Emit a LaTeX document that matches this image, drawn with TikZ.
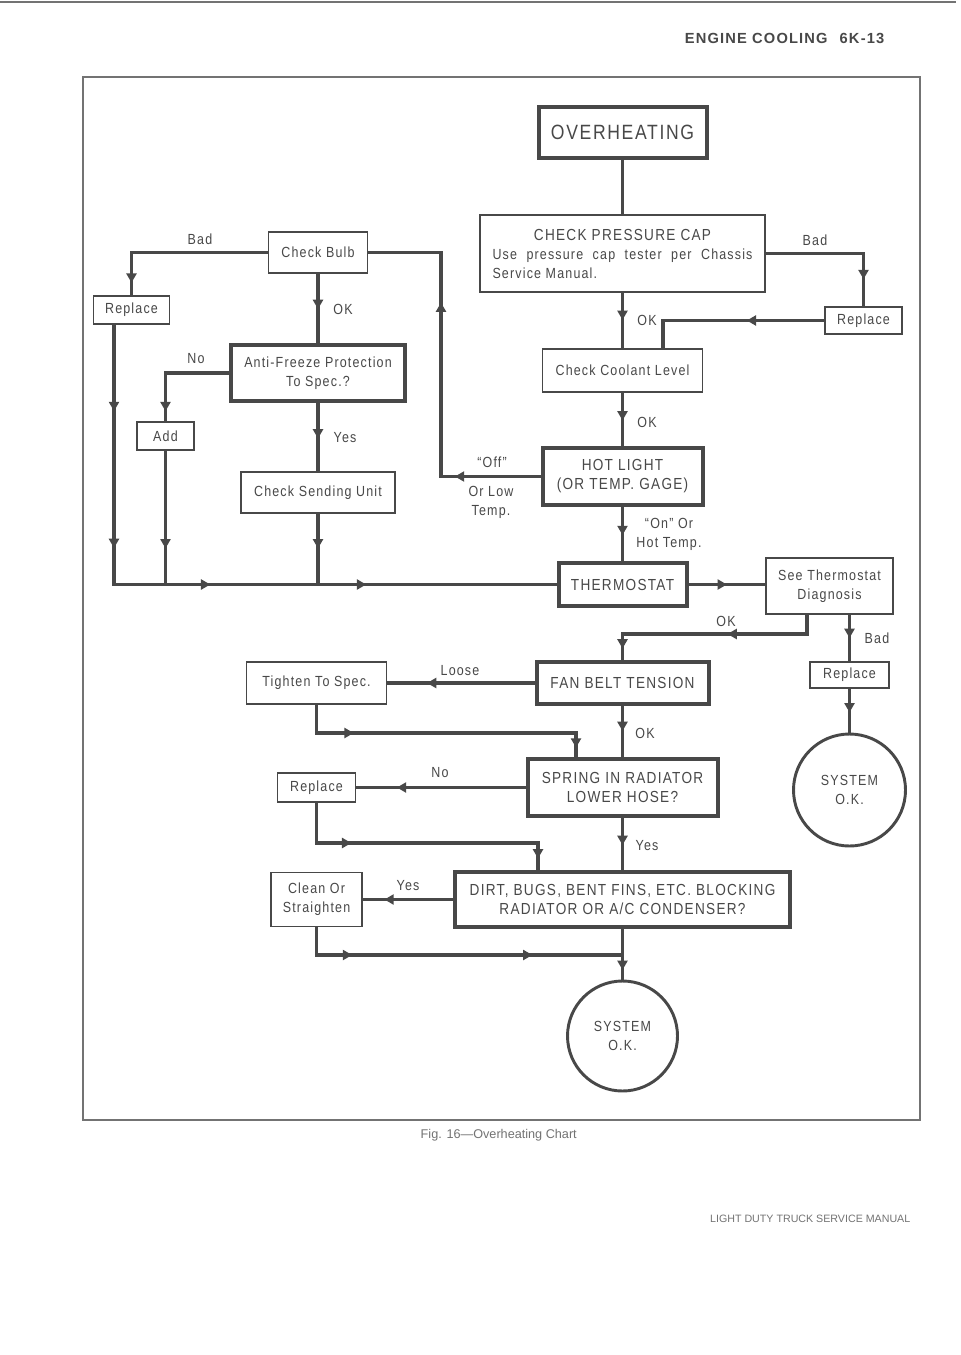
\documentclass[tikz,border=0pt]{standalone}
\usepackage{fontspec}
\setmainfont{Liberation Sans}[FakeStretch=0.85,LetterSpace=8]
\newfontfamily\headfont{Liberation Sans}[LetterSpace=8]
\newfontfamily\plainfont{Liberation Sans}
\usepackage{tikz}
\usetikzlibrary{arrows.meta,decorations.markings}
\definecolor{ink}{RGB}{72,72,72}
\definecolor{edge}{RGB}{115,115,115}
\newcommand\smalltxt{\fontsize{11}{14.25}\selectfont}
\newcommand\capstxt{\fontsize{12}{14.25}\selectfont}

\tikzset{
  box/.style={draw=ink, line width=1.1pt, inner sep=0pt, align=center, font=\smalltxt},
  bigbox/.style={draw=ink, line width=3pt, inner sep=0pt, align=center, font=\capstxt},
  endcirc/.style={circle, draw=ink, line width=2.2pt, minimum size=#1, inner sep=0pt, align=center, font=\smalltxt},
  wire/.style={draw=ink, line width=2.3pt},
  mid/.style={postaction={decorate, decoration={markings, mark=at position #1 with {\arrow{Triangle[width=7.5pt,length=7pt]}}}}},
  lbl/.style={font=\smalltxt, inner sep=0pt, align=center},
}

\begin{document}
\begin{tikzpicture}[x=0.75pt, y=-0.75pt, ink]
            \useasboundingbox (0,0) rectangle (960,1355);
            \fill[white] (0,0) rectangle (960,1355);

            % Page edge and frame
            \draw[edge, line width=1.5pt] (0,2) -- (956,2);
            \draw[edge, line width=1.2pt] (83,77) rectangle (920,1120);
            \node[font=\headfont\bfseries\fontsize{11}{13}\selectfont, anchor=east] (head) at (889,38) {ENGINE COOLING\hspace{9pt}6K-13};
            \node[font=\plainfont\fontsize{9.5}{11}\selectfont, edge, anchor=west] (fig) at (416,1135) {Fig. 16—Overheating Chart};
            \node[font=\plainfont\fontsize{8}{10}\selectfont, edge, anchor=east] (manual) at (915,1219) {LIGHT DUTY TRUCK SERVICE MANUAL};

            % Main column
            \node[bigbox, minimum width=126pt, minimum height=38.25pt, font=\fontsize{15.5}{18}\selectfont] (over) at (622.5,132.5) {OVERHEATING};
            \node[box, minimum width=213.75pt, minimum height=57.75pt] (cap) at (622.5,253.5) {{\capstxt CHECK PRESSURE CAP}\\\makebox[195pt][s]{Use pressure cap tester per Chassis}\\\makebox[195pt][l]{Service Manual.}};
            \node[box, minimum width=120pt, minimum height=32.25pt] (coolant) at (622.5,370.5) {Check Coolant Level};
            \node[bigbox, minimum width=120pt, minimum height=42.75pt] (hot) at (622.5,476.5) {HOT LIGHT\\(OR TEMP. GAGE)};
            \node[bigbox, minimum width=96pt, minimum height=32.25pt] (thermo) at (622.5,584.5) {THERMOSTAT};
            \node[bigbox, minimum width=129pt, minimum height=31.5pt] (belt) at (622.5,683) {FAN BELT TENSION};
            \node[bigbox, minimum width=142.5pt, minimum height=42.75pt] (spring) at (622.5,787.5) {SPRING IN RADIATOR\\LOWER HOSE?};
            \node[bigbox, minimum width=251.25pt, minimum height=41.25pt] (dirt) at (622.5,899.5) {DIRT, BUGS, BENT FINS, ETC. BLOCKING\\RADIATOR OR A/C CONDENSER?};
            \node[endcirc=82.5pt] (okB) at (622.5,1036) {SYSTEM\\O.K.};

            % Right side
            \node[box, minimum width=57.75pt, minimum height=20.25pt] (repA) at (863.5,320.5) {Replace};
            \node[box, minimum width=95.25pt, minimum height=42pt] (std) at (829.5,586) {See Thermostat\\Diagnosis};
            \node[box, minimum width=59.25pt, minimum height=19.5pt] (repC) at (849.5,675) {Replace};
            \node[endcirc=84pt] (okR) at (849.5,790) {SYSTEM\\O.K.};

            % Left side
            \node[box, minimum width=74.25pt, minimum height=30.75pt] (bulb) at (318,252.5) {Check Bulb};
            \node[box, minimum width=57pt, minimum height=21pt] (repB) at (131.5,310) {Replace};
            \node[bigbox, minimum width=130.5pt, minimum height=42pt, font=\smalltxt] (anti) at (318,373) {Anti-Freeze Protection\\To Spec.?};
            \node[box, minimum width=42.75pt, minimum height=21pt] (add) at (165.5,436) {Add};
            \node[box, minimum width=115.5pt, minimum height=30.75pt] (csu) at (318,492.5) {Check Sending Unit};
            \node[box, minimum width=105pt, minimum height=31.5pt] (tight) at (316.5,683) {Tighten To Spec.};
            \node[box, minimum width=58.5pt, minimum height=21.75pt] (repD) at (316.5,787.5) {Replace};
            \node[box, minimum width=68.25pt, minimum height=40.5pt] (clean) at (316.5,899.5) {Clean Or\\Straighten};

            % Corners
            \coordinate (offUp) at (441,252.5);
            \coordinate (stdOK) at (807,634);
            \coordinate (busL) at (114,584.5);
            \coordinate (tiR) at (576,733);
            \coordinate (rpR) at (538,843);
            \coordinate (joinB) at (622.5,955);

            % Connectors, main column
            \draw[wire] (over) -- (cap);
            \draw[wire, mid=0.49] (cap.south) -- (coolant.north);
            \draw[wire, mid=0.52] (coolant.south) -- (hot.north);
            \draw[wire, mid=0.52] (hot.south) -- (thermo.north);
            \draw[wire, mid=0.49] (belt.south) -- (spring.north);
            \draw[wire, mid=0.52] (spring.south) -- (dirt.north);
            \draw[wire, mid=0.81] (dirt.south) -- (okB.north);

            % Connectors, right
            \draw[wire, mid=0.82] (cap.east) -| (repA.north);
            \draw[wire, mid=0.41] (repA.west) -| (coolant.north -| 663,0);
            \draw[wire, mid=0.5] (thermo.east) -- (thermo.east -| std.west);
            \draw[wire, mid=0.43, mid=0.95] (std.south -| stdOK) -- (stdOK) -| (belt.north);
            \draw[wire, mid=0.5] (std.south -| repC.north) -- (repC.north);
            \draw[wire, mid=0.54] (repC.south) -- (okR.north);

            % Connectors, left
            \draw[wire, mid=0.216, mid=0.69] (hot.west) -| (offUp) -- (bulb.east);
            \draw[wire, mid=0.93] (bulb.west) -| (repB.north);
            \draw[wire, mid=0.51] (bulb.south) -- (bulb.south |- anti.north);
            \draw[wire, mid=0.91] (anti.west) -| (add.north);
            \draw[wire, mid=0.52] (anti.south) -- (csu.north);
            \draw[wire, mid=0.123, mid=0.318, mid=0.507, mid=0.729] (repB.south -| busL) -- (busL) -- (thermo.west);
            \draw[wire, mid=0.73] (add.south) -- (add.south |- busL);
            \draw[wire, mid=0.49] (csu.south) -- (csu.south |- busL);
            \draw[wire, mid=0.73] (belt.west) -- (tight.east);
            \draw[wire, mid=0.21, mid=0.97] (tight.south) |- (tiR) -- (tiR |- spring.north);
            \draw[wire, mid=0.76] (spring.west) -- (repD.east);
            \draw[wire, mid=0.26, mid=0.96] (repD.south) |- (rpR) -- (rpR |- dirt.north);
            \draw[wire, mid=0.76] (dirt.west) -- (clean.east);
            \draw[wire, mid=0.19, mid=0.73] (clean.south) |- (joinB);

            % Labels
            \node[lbl] (lBadA) at (815,240) {Bad};
            \node[lbl] (lOkA) at (647,320) {OK};
            \node[lbl] (lOkB) at (647,422) {OK};
            \node[lbl] (lOff) at (492,462) {``Off''};
            \node[lbl] (lLow) at (491,502.5) {Or Low\\Temp.};
            \node[lbl] (lOn) at (669,534) {``On'' Or\\Hot Temp.};
            \node[lbl] (lOkC) at (726,621) {OK};
            \node[lbl] (lBadB) at (877,638) {Bad};
            \node[lbl] (lBadC) at (200,239) {Bad};
            \node[lbl] (lOkD) at (343,309) {OK};
            \node[lbl] (lNoA) at (196,359) {No};
            \node[lbl] (lYesA) at (345,438) {Yes};
            \node[lbl] (lLoose) at (460,671) {Loose};
            \node[lbl] (lOkE) at (645,733) {OK};
            \node[lbl] (lNoB) at (440,773) {No};
            \node[lbl] (lYesB) at (647,846) {Yes};
            \node[lbl] (lYesC) at (408,886) {Yes};
        \end{tikzpicture}
\end{document}
